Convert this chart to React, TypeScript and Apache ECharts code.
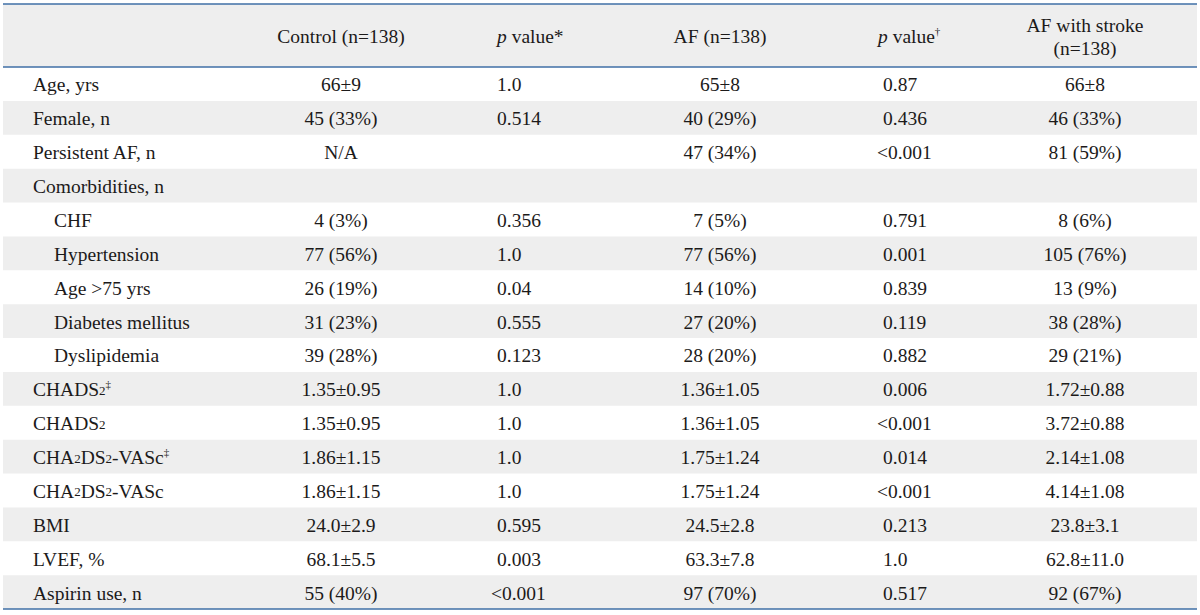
import React, { useEffect, useRef } from "react";
import * as echarts from "echarts";

// ---- Table content ----
const headers = [
  "Control (n=138)",
  "{it|p} value*",
  "AF (n=138)",
  "{it|p} value{sup|†}",
  "AF with stroke\n(n=138)",
];

const rowLabels = [
  "Age, yrs",
  "Female, n",
  "Persistent AF, n",
  "Comorbidities, n",
  "CHF",
  "Hypertension",
  "Age >75 yrs",
  "Diabetes mellitus",
  "Dyslipidemia",
  "CHADS{sub|2}{sup|‡}",
  "CHADS{sub|2}",
  "CHA{sub|2}DS{sub|2}-VASc{sup|‡}",
  "CHA{sub|2}DS{sub|2}-VASc",
  "BMI",
  "LVEF, %",
  "Aspirin use, n",
];

const indentedRows = [4, 5, 6, 7, 8];

const controlValues = [
  "66±9", "45 (33%)", "N/A", "", "4 (3%)", "77 (56%)", "26 (19%)", "31 (23%)",
  "39 (28%)", "1.35±0.95", "1.35±0.95", "1.86±1.15", "1.86±1.15", "24.0±2.9",
  "68.1±5.5", "55 (40%)",
];

const pControlVsAF = [
  "1.0", "0.514", "", "", "0.356", "1.0", "0.04", "0.555", "0.123", "1.0", "1.0",
  "1.0", "1.0", "0.595", "0.003", "<0.001",
];

const afValues = [
  "65±8", "40 (29%)", "47 (34%)", "", "7 (5%)", "77 (56%)", "14 (10%)", "27 (20%)",
  "28 (20%)", "1.36±1.05", "1.36±1.05", "1.75±1.24", "1.75±1.24", "24.5±2.8",
  "63.3±7.8", "97 (70%)",
];

const pAFVsStroke = [
  "0.87", "0.436", "<0.001", "", "0.791", "0.001", "0.839", "0.119", "0.882",
  "0.006", "<0.001", "0.014", "<0.001", "0.213", "1.0", "0.517",
];

const afStrokeValues = [
  "66±8", "46 (33%)", "81 (59%)", "", "8 (6%)", "105 (76%)", "13 (9%)", "38 (28%)",
  "29 (21%)", "1.72±0.88", "3.72±0.88", "2.14±1.08", "4.14±1.08", "23.8±3.1",
  "62.8±11.0", "92 (67%)",
];

// ---- Layout / style ----
const W = 1200;
const H = 615;
const LEFT = 3;
const RIGHT = 1197;
const TOP_LINE = 4;
const HEADER_BOTTOM = 67;
const ROW_H = 33.875;
const LINE_COLOR = "#3f6fa6";
const STRIPE = "#eeeeee";
const TEXT = "#1c1a1a";
const FONT = "'Liberation Serif', 'Times New Roman', serif";
const FS = 19.5;

const LABEL_X = 33;
const INDENT_X = 54;
const colSpec = [
  { x: 341, align: "center" },
  { x: 497, align: "left" },
  { x: 720, align: "center" },
  { x: 883, align: "left" },
  { x: 1085, align: "center" },
];
const headerSpec = [
  { x: 341, align: "center" },
  { x: 497, align: "left" },
  { x: 720, align: "center" },
  { x: 878, align: "left" },
  { x: 1085, align: "center" },
];

const rich = {
  it: { fontStyle: "italic", fontSize: FS, fontFamily: FONT, fill: TEXT, color: TEXT },
  sub: {
    fontSize: 13,
    fontFamily: FONT,
    fill: TEXT,
    color: TEXT,
    verticalAlign: "bottom",
    lineHeight: 13,
    padding: [0, 0, 4, 0],
  },
  sup: { fontSize: 11, fontFamily: FONT, fill: TEXT, color: TEXT, verticalAlign: "top", lineHeight: 11 },
};

function textEl(text: string, x: number, y: number, align: string, lineHeight = 22) {
  return {
    type: "text",
    x,
    y,
    silent: true,
    style: {
      text,
      fill: TEXT,
      fontSize: FS,
      fontFamily: FONT,
      align,
      verticalAlign: "middle",
      textAlign: align,
      textVerticalAlign: "middle",
      lineHeight,
      rich,
    },
  };
}

export default function App() {
  const ref = useRef<HTMLDivElement>(null);
  useEffect(() => {
    const chart = echarts.init(ref.current!, null, { renderer: "svg" });
    const elements: any[] = [];

    // header background
    elements.push({
      type: "rect",
      shape: { x: LEFT, y: TOP_LINE, width: RIGHT - LEFT, height: HEADER_BOTTOM - TOP_LINE },
      style: { fill: STRIPE },
      silent: true,
    });

    // striped rows
    rowLabels.forEach((_, i) => {
      if (i % 2 === 1) {
        elements.push({
          type: "rect",
          shape: { x: LEFT, y: HEADER_BOTTOM + i * ROW_H, width: RIGHT - LEFT, height: ROW_H },
          style: { fill: STRIPE },
          silent: true,
        });
      }
    });

    const bottom = HEADER_BOTTOM + rowLabels.length * ROW_H;
    [TOP_LINE, HEADER_BOTTOM, bottom].forEach((y) => {
      elements.push({
        type: "rect",
        shape: { x: LEFT, y: y - 0.8, width: RIGHT - LEFT, height: 1.6 },
        style: { fill: LINE_COLOR },
        silent: true,
      });
    });

    // headers
    const headerMid = (TOP_LINE + HEADER_BOTTOM) / 2 + 1;
    headers.forEach((h, i) => {
      elements.push(textEl(h, headerSpec[i].x, headerMid, headerSpec[i].align, 23));
    });

    // body
    const columns = [controlValues, pControlVsAF, afValues, pAFVsStroke, afStrokeValues];
    rowLabels.forEach((label, r) => {
      const cy = HEADER_BOTTOM + r * ROW_H + ROW_H / 2 + 1;
      const lx = indentedRows.includes(r) ? INDENT_X : LABEL_X;
      elements.push(textEl(label, lx, cy, "left"));
      columns.forEach((col, c) => {
        const v = col[r];
        if (!v) return;
        let x = colSpec[c].x;
        if (colSpec[c].align === "left" && v.startsWith("<")) x -= 6;
        elements.push(textEl(v, x, cy, colSpec[c].align));
      });
    });

    chart.setOption({ animation: false, graphic: { elements } });
    return () => chart.dispose();
  }, []);

  return (
    <div
      ref={ref}
      style={{ position: "fixed", left: 0, top: 0, width: W, height: H, background: "#fff" }}
    />
  );
}
